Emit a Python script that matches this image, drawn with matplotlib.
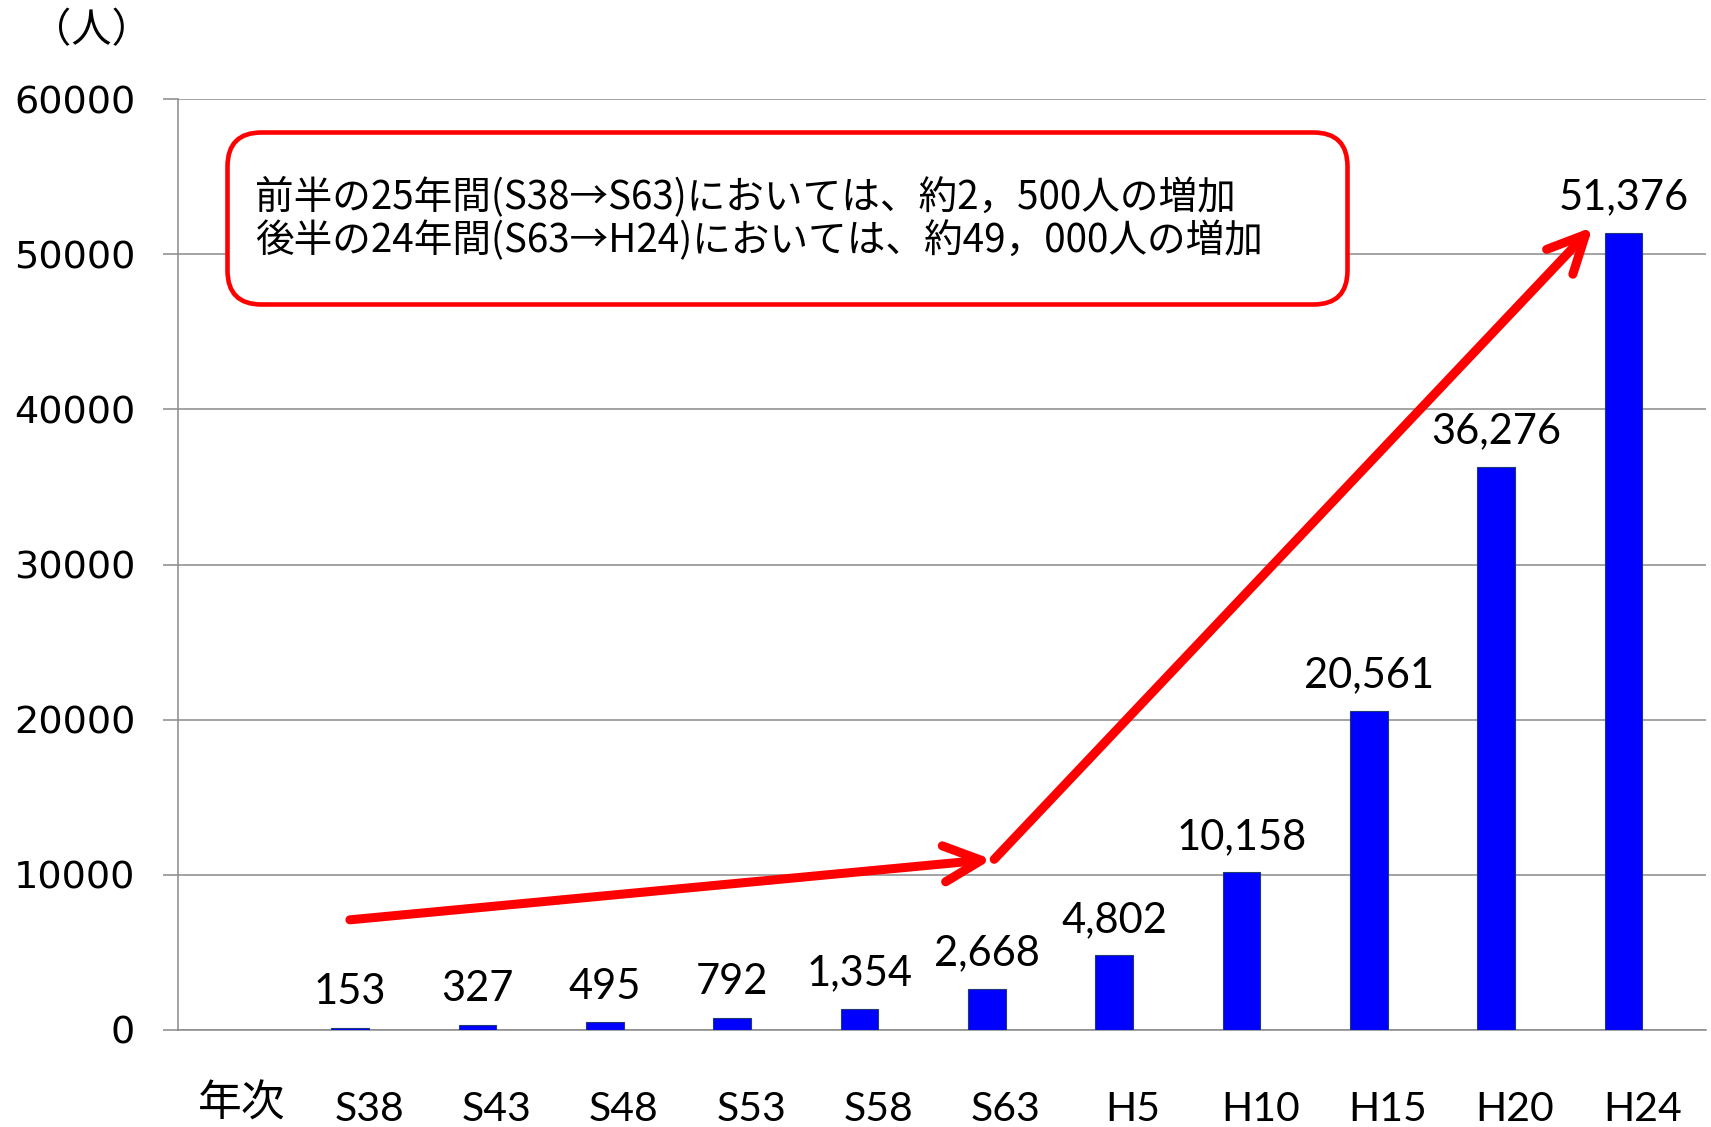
import numpy as np
import matplotlib
matplotlib.use("Agg")
import matplotlib.pyplot as plt
from matplotlib.patches import FancyBboxPatch
from matplotlib.transforms import ScaledTranslation

plt.rcParams["font.family"] = ["Noto Sans CJK JP", "DejaVu Sans"]

# ---- data ----
categories = ["年次", "S38", "S43", "S48", "S53", "S58", "S63", "H5", "H10", "H15", "H20", "H24"]
values = [153, 327, 495, 792, 1354, 2668, 4802, 10158, 20561, 36276, 51376]
y_ticks = [0, 10000, 20000, 30000, 40000, 50000, 60000]
unit_label = "（人）"
note_lines = [
    "前半の25年間(S38→S63)においては、約2，500人の増加",
    "後半の24年間(S63→H24)においては、約49，000人の増加",
]
# trend arrows (category position, persons)
arrow_first = ((0.85, 7100), (5.89, 11000))
arrow_second = ((5.91, 11000), (10.61, 51750))

W, H, DPI = 1711, 1127, 100
fig = plt.figure(figsize=(W / DPI, H / DPI), dpi=DPI)
ax = fig.add_axes([178 / W, (H - 1030) / H, 1528 / W, 931 / H])
ax.set_xlim(-0.5, len(categories) - 0.5)
ax.set_ylim(y_ticks[0], y_ticks[-1])

grey = "#8A8A8A"
bar_w = 0.295
xs = np.arange(1, len(categories)) - bar_w / 2
ax.bar(xs, values, width=bar_w, color="#0000FF", edgecolor="#1F3A70",
       linewidth=0.8, zorder=3)

for x, v in zip(xs, values):
    ax.annotate(f"{v:,}", (x, v), xytext=(0, 17), textcoords="offset points",
                ha="center", va="baseline", fontsize=30, family="Lato",
                color="black", zorder=5)

# axes styling
ax.set_yticks(y_ticks)
ax.yaxis.grid(True, color=grey, linewidth=1.1)
ax.set_axisbelow(True)
for side in ("top", "right"):
    ax.spines[side].set_visible(False)
for side in ("left", "bottom"):
    ax.spines[side].set_color(grey)
    ax.spines[side].set_linewidth(1.1)
ax.tick_params(axis="y", direction="out", length=10.8, width=1.1, color=grey,
               pad=20, labelsize=27.5)
for t in ax.get_yticklabels():
    t.set_family("DejaVu Sans")

ax.set_xticks(range(len(categories)))
ax.set_xticklabels(categories)
ax.tick_params(axis="x", length=0, pad=65.5)
for i, t in enumerate(ax.get_xticklabels()):
    t.set_va("baseline")
    if i == 0:
        t.set_family(["Noto Sans CJK JP", "DejaVu Sans"])
        t.set_fontsize(31.5)
        t.set_transform(t.get_transform()
                        + ScaledTranslation(0, 4 / DPI, fig.dpi_scale_trans))
    else:
        t.set_family("Lato")
        t.set_fontsize(29.5)

# unit label
fig.text(91 / W, 1 - 31 / H, unit_label, fontsize=29, ha="center", va="center")

# note box
box = FancyBboxPatch((227.5 / DPI, (H - 304.5) / DPI), 1120 / DPI, 172 / DPI,
                     boxstyle="round,pad=0,rounding_size=0.34",
                     transform=fig.dpi_scale_trans, facecolor="white",
                     edgecolor="#FF0000", linewidth=3.3, clip_on=False, zorder=4)
ax.add_patch(box)
for line, yc in zip(note_lines, (197, 241)):
    fig.text(255 / W, 1 - yc / H, line, fontsize=27.8, ha="left", va="center")

# trend arrows
for start, tip in (arrow_first, arrow_second):
    ax.annotate("", xy=tip, xytext=start,
                arrowprops=dict(arrowstyle="->,head_length=27,head_width=13",
                                mutation_scale=1, color="#FF0000", lw=6.5,
                                shrinkA=0, shrinkB=0, capstyle="round",
                                joinstyle="round"),
                zorder=6)

fig.savefig("out.png", dpi=DPI)
